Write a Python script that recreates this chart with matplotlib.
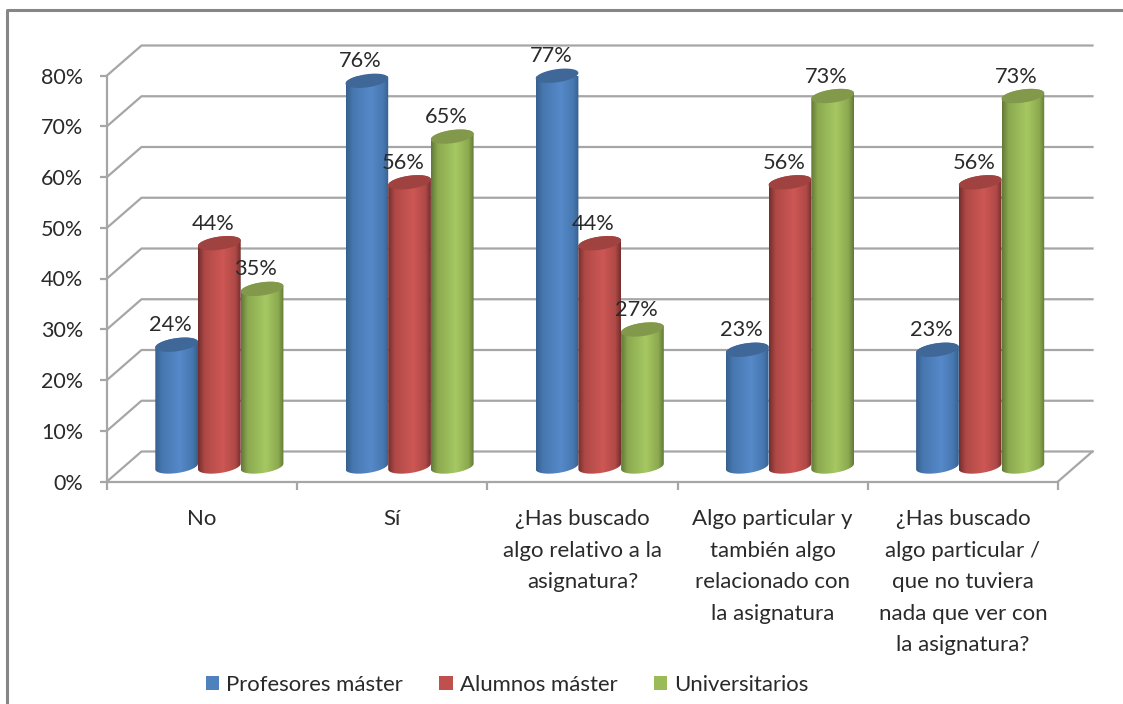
import matplotlib
matplotlib.use("Agg")
import matplotlib.pyplot as plt
import numpy as np
from matplotlib.colors import LinearSegmentedColormap
from matplotlib.lines import Line2D
from matplotlib.patches import Patch, Polygon

categories = [
    "No",
    "Sí",
    "¿Has buscado\nalgo relativo a la\nasignatura?",
    "Algo particular y\ntambién algo\nrelacionado con\nla asignatura",
    "¿Has buscado\nalgo particular /\nque no tuviera\nnada que ver con\nla asignatura?",
]
series_names = ["Profesores máster", "Alumnos máster", "Universitarios"]
profesores = [24, 76, 77, 23, 23]
alumnos = [44, 56, 44, 56, 56]
universitarios = [35, 65, 27, 73, 73]
y_ticks = [0, 10, 20, 30, 40, 50, 60, 70, 80]

legend_colors = ["#4F81BD", "#C0504D", "#9BBB59"]
edge_colors = ["#36608F", "#742F2D", "#637A38"]
mid_colors = ["#4777AF", "#AE4946", "#8BA94F"]
light_colors = ["#5589C9", "#CE5754", "#A6C862"]
top_colors = ["#3F6898", "#A0423F", "#82994B"]

W, H = 1123, 704
plt.rcParams["font.family"] = ["Lato", "DejaVu Sans"]
text_color = "#2A2A2A"

fig = plt.figure(figsize=(W / 100, H / 100), dpi=100, facecolor="white")
left, right, top, bottom = 107, 1058, 75.5, 481.5
ax = fig.add_axes([left / W, 1 - bottom / H, (right - left) / W, (bottom - top) / H])
ax.set_xlim(0, 5)
ax.set_ylim(0, 80)
ax.patch.set_visible(False)

px_x = (right - left) / 5
px_y = (bottom - top) / 80
depth_x = 34.5 / px_x
depth_y = 30 / px_y

# outer chart frame
fig.add_artist(Line2D([7 / W, 7 / W, 1], [0, 1 - 10 / H, 1 - 10 / H], color="#868686", lw=2.2))

# back wall grid
grid_color = "#A6A6A6"
for v in y_ticks:
    ax.plot([0, depth_x, 5 + depth_x], [v, v + depth_y, v + depth_y],
            color=grid_color, lw=1.6, clip_on=False, zorder=1)
ax.plot([5, 5 + depth_x], [0, depth_y], color=grid_color, lw=1.6, clip_on=False, zorder=1)

# cylinders
bar_w = 42.7 / px_x
half_w = bar_w / 2
rx = 6.6 / px_y
tilt = 2.8 / px_y


def ring(xc, yc, t):
    return np.column_stack([xc + half_w * np.cos(t), yc + rx * np.sin(t) + tilt * np.cos(t)])


all_series = [profesores, alumnos, universitarios]
order = 3
for i in range(len(categories)):
    for j, values in enumerate(all_series):
        xc = i + 0.5 + depth_x / 2 + (j - 1) * bar_w
        y0 = depth_y / 2
        y1 = values[i] + depth_y / 2
        low = ring(xc, y0, np.linspace(np.pi, 2 * np.pi, 40))
        high = ring(xc, y1, np.linspace(0, np.pi, 40))
        body = Polygon(np.vstack([low, high]), closed=True, transform=ax.transData,
                       facecolor="none", edgecolor="none")
        ax.add_patch(body)
        cmap = LinearSegmentedColormap.from_list(
            "cyl", [(0, edge_colors[j]), (0.15, mid_colors[j]), (0.58, light_colors[j]),
                    (0.88, mid_colors[j]), (1, edge_colors[j])])
        shade = np.linspace(0, 1, 64).reshape(1, -1)
        img = ax.imshow(shade, cmap=cmap, aspect="auto", interpolation="bilinear",
                        extent=[xc - half_w, xc + half_w, y0 - 3, y1 + 3],
                        zorder=order, clip_on=True)
        img.set_clip_path(body)
        cap = Polygon(ring(xc, y1, np.linspace(0, 2 * np.pi, 80)), closed=True,
                      facecolor=top_colors[j], edgecolor="none", zorder=order + 0.1, clip_on=False)
        ax.add_patch(cap)
        order += 1

ax.set_xlim(0, 5)
ax.set_ylim(0, 80)

# value labels
for i in range(len(categories)):
    for j, values in enumerate(all_series):
        xc = i + 0.5 + depth_x / 2 + (j - 1) * bar_w
        ax.annotate(str(values[i]) + "%", (xc, values[i] + depth_y / 2),
                    xytext=(-4.5, 14), textcoords="offset points", ha="center", va="center",
                    fontsize=15.7, color=text_color, zorder=100, annotation_clip=False)

# axes
for s in ["top", "right"]:
    ax.spines[s].set_visible(False)
for s in ["left", "bottom"]:
    ax.spines[s].set_color(grid_color)
    ax.spines[s].set_linewidth(1.6)
    ax.spines[s].set_zorder(2)
ax.set_yticks(y_ticks)
ax.set_yticklabels([str(v) + "%" for v in y_ticks], fontsize=15.5, color=text_color)
ax.set_xticks(range(6))
ax.set_xticklabels([])
ax.set_xticks(np.arange(5) + 0.5, minor=True)
ax.set_xticklabels(categories, minor=True, fontsize=16, color=text_color, linespacing=1.72)
ax.tick_params(axis="y", length=5, width=1.6, color=grid_color, pad=12)
ax.tick_params(axis="x", which="major", length=6, width=1.6, color=grid_color)
ax.tick_params(axis="x", which="minor", length=0, pad=20)

handles = [Patch(facecolor=c, edgecolor="none") for c in legend_colors]
fig.legend(handles, series_names, loc="center", bbox_to_anchor=(507 / W, 1 - 685 / H), ncol=3,
           frameon=False, fontsize=15.9, labelcolor=text_color, handlelength=0.62, handleheight=0.62,
           handletextpad=0.3, columnspacing=1.65)

fig.savefig("out.png", dpi=100)
